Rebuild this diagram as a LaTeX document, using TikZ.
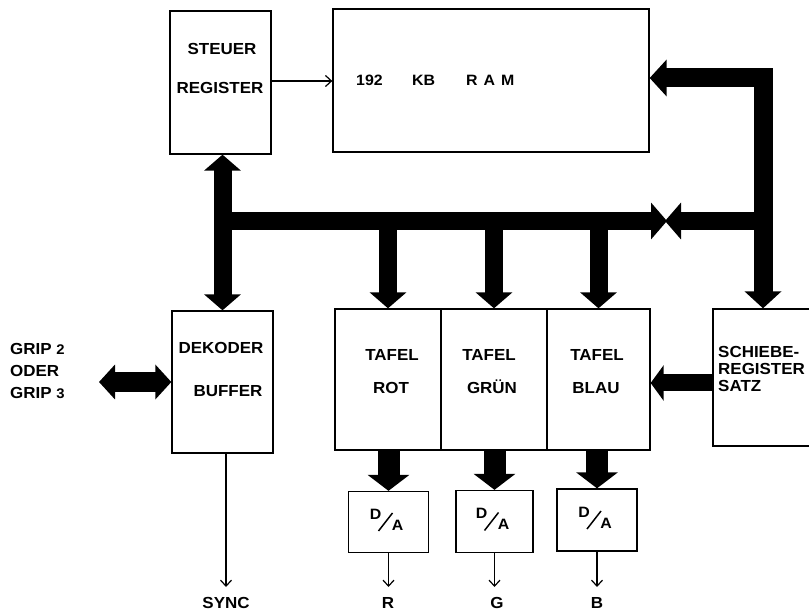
\documentclass[tikz,border=0pt]{standalone}
\usepackage{fontspec}
\setmainfont{Liberation Sans}[FakeStretch=1.06]
\usetikzlibrary{arrows.meta}
\begin{document}
\begin{tikzpicture}[x=1pt,y=-1pt,
  box/.style={draw,line width=1.3pt,inner sep=0pt},
  lbl/.style={font=\bfseries\fontsize{16}{16}\selectfont,inner sep=0pt,text height=11.5pt,text depth=0pt},
  slbl/.style={font=\bfseries\fontsize{16}{16}\selectfont,inner sep=0pt,text height=11pt,text depth=0pt,anchor=west},
  dalbl/.style={font=\bfseries\fontsize{15}{15}\selectfont,inner sep=0pt,text height=10.5pt,text depth=0pt},
  thinarrow/.style={line width=1.2pt,-{Straight Barb[length=6pt,width=11pt]}},
  bus/.style={line width=18pt,{Triangle[length=16pt,width=36pt]}-{Triangle[length=16pt,width=36pt]}},
  busend/.style={line width=18pt,-{Triangle[length=16pt,width=36pt]}},
  ramarrow/.style={line width=19pt,line join=miter,{Triangle[length=17pt,width=36pt]}-{Triangle[length=17pt,width=36pt]}},
  daarrow/.style={line width=22pt,-{Triangle[length=16pt,width=41pt]}},
  griparrow/.style={line width=20pt,{Triangle[length=16pt,width=34pt]}-{Triangle[length=16pt,width=34pt]}},
  scharrow/.style={line width=17pt,-{Triangle[length=13pt,width=35pt]}}
]
\useasboundingbox (0,0) rectangle (809,612);

% boxes
\node[box,minimum width=101pt,minimum height=143pt] (steuer) at (220.5,82.5) {};
\node[box,minimum width=316pt,minimum height=143pt] (ram) at (491,80.5) {};
\node[box,minimum width=101pt,minimum height=142pt] (dek) at (222.5,382) {};
\node[box,minimum width=106pt,minimum height=141pt] (tr) at (388,379.5) {};
\node[box,minimum width=106pt,minimum height=141pt] (tg) at (494,379.5) {};
\node[box,minimum width=103pt,minimum height=141pt] (tb) at (598.5,379.5) {};
\node[box,minimum width=110pt,minimum height=137pt] (sch) at (768,377.5) {};
\node[box,minimum width=80pt,minimum height=61pt] (da1) at (388.5,522) {};
\node[box,minimum width=77pt,minimum height=62pt] (da2) at (494.5,521.5) {};
\node[box,minimum width=80pt,minimum height=62pt] (da3) at (597,520) {};

% texts
\node[lbl] (t1) at (222,49) {STEUER};
\node[lbl] (t2) at (220,88) {REGISTER};
\node[dalbl,anchor=west] (t3) at (356,80) {192};
\node[dalbl,anchor=west] (t4) at (412,80) {KB};
\node[dalbl,anchor=west] (t5) at (466,80) {R\hspace{6pt}A\hspace{6pt}M};
\node[lbl] (t6) at (221,348) {DEKODER};
\node[lbl] (t7) at (228,391) {BUFFER};
\node[lbl,anchor=west] (c1) at (10,349) {GRIP \fontsize{14}{14}\selectfont 2};
\node[lbl,anchor=west] (c2) at (10,371) {ODER};
\node[lbl,anchor=west] (c3) at (10,393) {GRIP \fontsize{14}{14}\selectfont 3};
\node[lbl] (r1) at (392,355) {TAFEL};
\node[lbl] (r2) at (391,388) {ROT};
\node[lbl] (g1) at (489,355) {TAFEL};
\node[lbl] (g2) at (492,388) {GRÜN};
\node[lbl] (b1) at (597,355) {TAFEL};
\node[lbl] (b2) at (596,388) {BLAU};
\node[slbl] (s1) at (718,352) {SCHIEBE-};
\node[slbl] (s2) at (718,369) {REGISTER};
\node[slbl] (s3) at (718,386) {SATZ};
\foreach \b in {da1,da2,da3}{
  \node[dalbl] (\b d) at ([shift={(-13,-8)}]\b.center) {D};
  \node[dalbl] (\b a) at ([shift={(9,3)}]\b.center) {A};
  \draw[line width=1.5pt] ([shift={(-10,9)}]\b.center) -- ([shift={(4,-9)}]\b.center);
}
\node[lbl] (sync) at (226,603) {SYNC};
\node[lbl] (lr) at (388,603) {R};
\node[lbl] (lg) at (497,603) {G};
\node[lbl] (lb) at (597,603) {B};

% coordinates
\coordinate (corner) at (763,78);
\coordinate (busl) at (223,221);
\coordinate (busr) at (763,221);
\coordinate (busm1) at (667,221);
\coordinate (busm2) at (665,221);
\coordinate (grip) at (99,382);
\coordinate (ah) at (0,587);

% thin arrows
\draw[thinarrow] (steuer.east |- 0,81) -- (ram.west |- 0,81);
\draw[thinarrow] (dek.south -| sync) -- (sync |- ah);
\draw[thinarrow] (da1.south) -- (da1.south |- ah);
\draw[thinarrow] (da2.south) -- (da2.south |- ah);
\draw[thinarrow] (da3.south) -- (da3.south |- ah);

% thick buses
\draw[busend] (busl) -- (busm1);
\draw[busend] (busr) -- (busm2);
\draw[bus] (dek.north |- steuer.south) -- (dek.north);
\draw[busend] (tr.north |- busl) -- (tr.north);
\draw[busend] (tg.north |- busl) -- (tg.north);
\draw[busend] (tb.north |- busl) -- (tb.north);
\draw[ramarrow] (ram.east |- corner) -- (corner) -- (corner |- sch.north);
\draw[daarrow] (da1.north |- tr.south) -- (da1.north);
\draw[daarrow] (da2.north |- tg.south) -- (da2.north);
\draw[daarrow] (da3.north |- tb.south) -- (da3.north);
\draw[griparrow] (grip) -- (dek.west);
\draw[scharrow] (sch.west |- 0,383) -- (tb.east |- 0,383);
\end{tikzpicture}
\end{document}
